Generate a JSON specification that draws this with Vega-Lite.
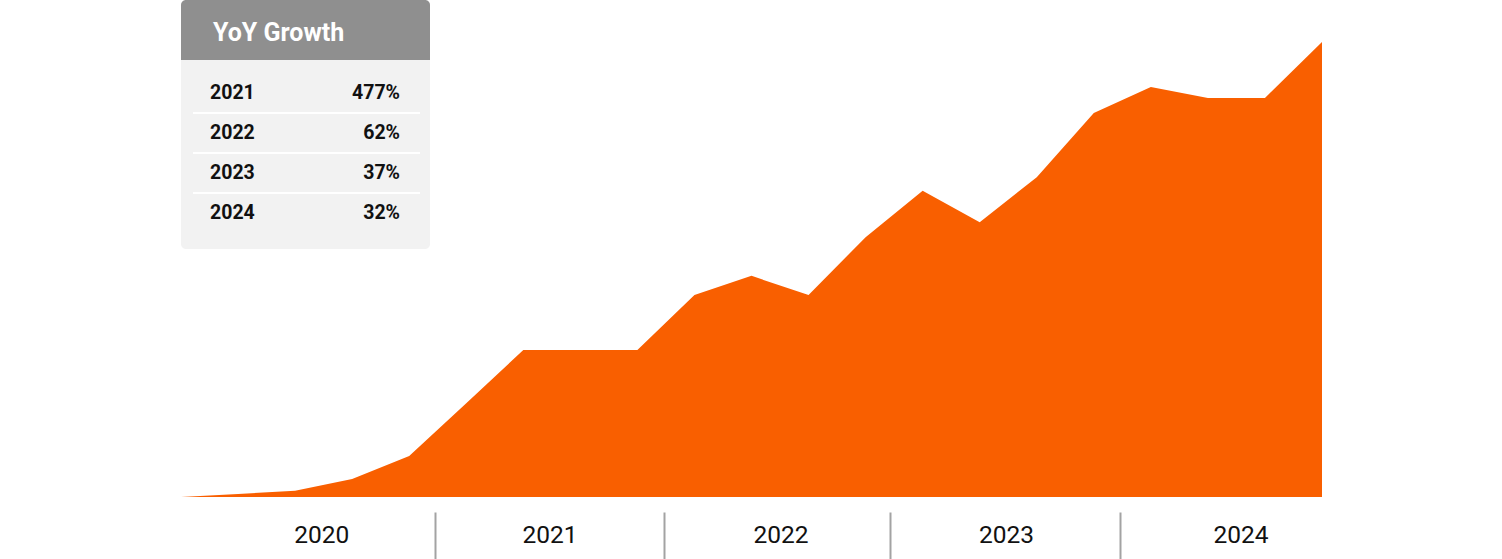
{
  "$schema": "https://vega.github.io/schema/vega-lite/v6.json",
  "width": 1502,
  "height": 497,
  "autosize": {"type": "none"},
  "padding": {"left": 0, "top": 0, "right": 0, "bottom": 62},
  "background": "white",
  "config": {"view": {"stroke": null}, "font": "Roboto"},
  "resolve": {"scale": {"x": "independent", "y": "independent"}},
  "layer": [
    {
      "data": {"values": [
        {"q": 0, "v": 0}, {"q": 1, "v": 0.66}, {"q": 2, "v": 1.4}, {"q": 3, "v": 3.96},
        {"q": 4, "v": 9.0}, {"q": 5, "v": 20.6}, {"q": 6, "v": 32.3}, {"q": 7, "v": 32.3},
        {"q": 8, "v": 32.3}, {"q": 9, "v": 44.4}, {"q": 10, "v": 48.6}, {"q": 11, "v": 44.4},
        {"q": 12, "v": 57.1}, {"q": 13, "v": 67.3}, {"q": 14, "v": 60.4}, {"q": 15, "v": 70.3},
        {"q": 16, "v": 84.4}, {"q": 17, "v": 90.1}, {"q": 18, "v": 87.7}, {"q": 19, "v": 87.7},
        {"q": 20, "v": 100}
      ]},
      "mark": {"type": "area", "color": "#f95f00", "opacity": 1, "interpolate": "linear"},
      "encoding": {
        "x": {
          "field": "q", "type": "quantitative",
          "scale": {"domain": [0, 20], "range": [181, 1322], "nice": false, "zero": false},
          "axis": {
            "values": [2.46, 4.45, 6.46, 8.46, 10.51, 12.43, 14.46, 16.46, 18.57],
            "labelExpr": "indexof([2.46, 6.46, 10.51, 14.46, 18.57], datum.value) >= 0 ? '' + (2020 + indexof([2.46, 6.46, 10.51, 14.46, 18.57], datum.value)) : ''",
            "title": null, "domain": false, "grid": false,
            "offset": 15, "tickSize": 47, "tickWidth": 2, "tickColor": "#a3a3a3",
            "tickOpacity": {"condition": {"test": "indexof([4.45, 8.46, 12.43, 16.46], datum.value) >= 0", "value": 1}, "value": 0},
            "labelPadding": -24, "labelBaseline": "middle", "labelFontSize": 24.5,
            "labelColor": "#111111", "labelFont": "Roboto", "labelOverlap": false, "labelFlush": false
          }
        },
        "y": {"field": "v", "type": "quantitative", "scale": {"domain": [0, 109.23], "nice": false, "zero": true}, "axis": null}
      }
    },
    {
      "resolve": {"scale": {"y": "independent"}},
      "layer": [
        {
          "data": {"values": [{"part": "body"}]},
          "mark": {"type": "rect", "fill": "#f2f2f2", "cornerRadius": 5},
          "encoding": {
            "x": {"datum": 0, "type": "quantitative", "scale": {"domain": [0, 249], "range": [181, 430]}, "axis": null},
            "x2": {"datum": 249},
            "y": {"datum": 0, "type": "quantitative", "scale": {"domain": [0, 249], "range": [0, 249]}, "axis": null},
            "y2": {"datum": 249}
          }
        },
        {
          "data": {"values": [{"part": "header"}]},
          "mark": {"type": "rect", "fill": "#8f8f8f", "cornerRadiusTopLeft": 5, "cornerRadiusTopRight": 5},
          "encoding": {
            "x": {"datum": 0, "type": "quantitative", "scale": {"domain": [0, 249], "range": [181, 430]}, "axis": null},
            "x2": {"datum": 249},
            "y": {"datum": 0, "type": "quantitative", "scale": {"domain": [0, 249], "range": [0, 249]}, "axis": null},
            "y2": {"datum": 60}
          }
        },
        {
          "data": {"values": [{"title": "YoY Growth"}]},
          "mark": {"type": "text", "align": "left", "baseline": "alphabetic", "fontSize": 25, "fontWeight": "bold", "color": "#ffffff", "font": "Roboto"},
          "encoding": {
            "text": {"field": "title"},
            "x": {"datum": 32, "type": "quantitative", "scale": {"domain": [0, 249], "range": [181, 430]}, "axis": null},
            "y": {"datum": 41, "type": "quantitative", "scale": {"domain": [0, 249], "range": [0, 249]}, "axis": null}
          }
        },
        {
          "data": {"values": [
            {"year": "2021", "growth": "477%"}, {"year": "2022", "growth": "62%"},
            {"year": "2023", "growth": "37%"}, {"year": "2024", "growth": "32%"}
          ]},
          "transform": [{"filter": "datum.year != '2021'"}],
          "mark": {"type": "rule", "color": "#ffffff", "strokeWidth": 2},
          "encoding": {
            "x": {"datum": 12, "type": "quantitative", "scale": {"domain": [0, 249], "range": [181, 430]}, "axis": null},
            "x2": {"datum": 239},
            "y": {"field": "year", "type": "ordinal", "bandPosition": 0, "scale": {"type": "band", "domain": ["2021", "2022", "2023", "2024"], "range": [73, 233], "paddingInner": 0, "paddingOuter": 0}, "axis": null}
          }
        },
        {
          "data": {"values": [
            {"year": "2021", "growth": "477%"}, {"year": "2022", "growth": "62%"},
            {"year": "2023", "growth": "37%"}, {"year": "2024", "growth": "32%"}
          ]},
          "mark": {"type": "text", "align": "left", "baseline": "middle", "fontSize": 19.5, "fontWeight": "bold", "color": "#111111", "font": "Roboto"},
          "encoding": {
            "text": {"field": "year"},
            "x": {"datum": 29, "type": "quantitative", "scale": {"domain": [0, 249], "range": [181, 430]}, "axis": null},
            "y": {"field": "year", "type": "ordinal", "bandPosition": 0.5, "scale": {"type": "band", "domain": ["2021", "2022", "2023", "2024"], "range": [73, 233], "paddingInner": 0, "paddingOuter": 0}, "axis": null}
          }
        },
        {
          "data": {"values": [
            {"year": "2021", "growth": "477%"}, {"year": "2022", "growth": "62%"},
            {"year": "2023", "growth": "37%"}, {"year": "2024", "growth": "32%"}
          ]},
          "mark": {"type": "text", "align": "right", "baseline": "middle", "fontSize": 19.5, "fontWeight": "bold", "color": "#111111", "font": "Roboto"},
          "encoding": {
            "text": {"field": "growth"},
            "x": {"datum": 219, "type": "quantitative", "scale": {"domain": [0, 249], "range": [181, 430]}, "axis": null},
            "y": {"field": "year", "type": "ordinal", "bandPosition": 0.5, "scale": {"type": "band", "domain": ["2021", "2022", "2023", "2024"], "range": [73, 233], "paddingInner": 0, "paddingOuter": 0}, "axis": null}
          }
        }
      ]
    }
  ]
}
